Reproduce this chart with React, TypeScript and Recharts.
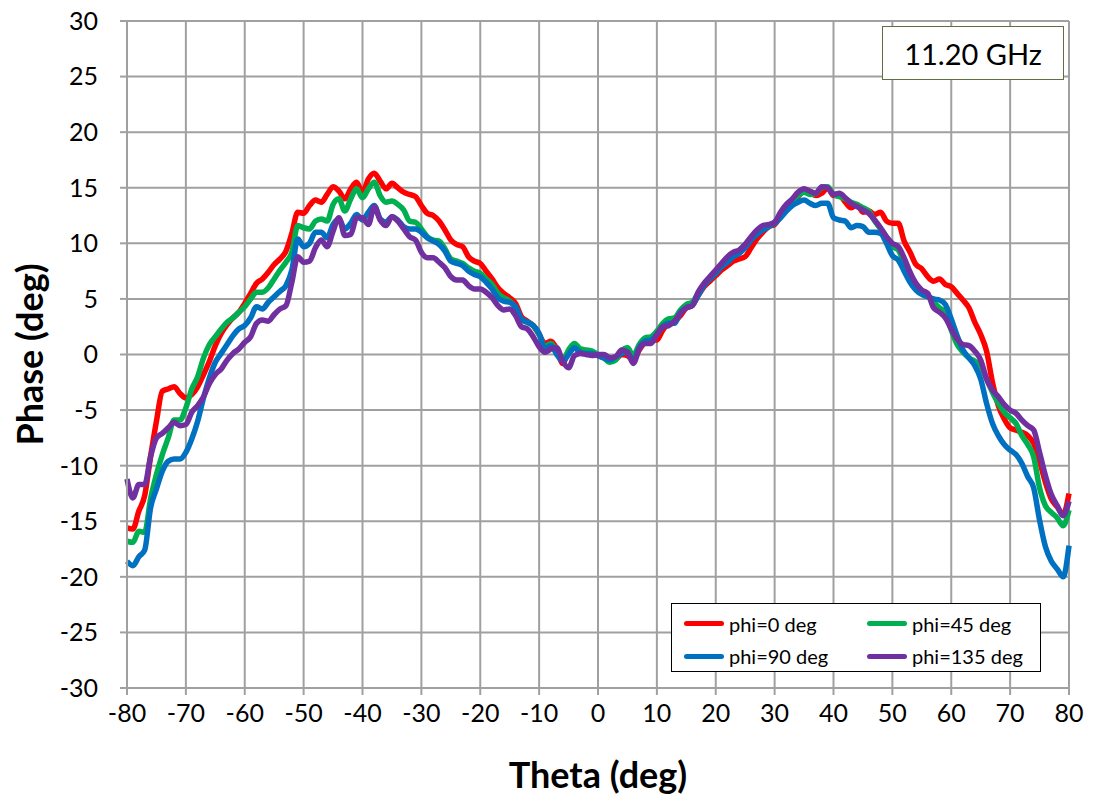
import { LineChart, Line, XAxis, YAxis, CartesianGrid } from "recharts";

// theta sampled every 1 deg from -80 to 80
const theta = Array.from({ length: 161 }, (_, i) => i - 80);

const phi0 = [
  -15.6, -15.7, -14.1, -12.7, -9.2, -6.0, -3.3, -3.1, -2.9, -3.5,
  -3.9, -3.6, -2.9, -1.8, -0.6, 0.8, 1.9, 2.7, 3.3, 3.8,
  4.6, 5.5, 6.4, 6.8, 7.4, 8.1, 8.6, 9.3, 10.9, 12.8,
  12.7, 13.4, 13.9, 13.7, 14.4, 15.1, 14.7, 14.0, 14.9, 15.5,
  14.6, 15.8, 16.3, 15.6, 14.9, 15.4, 15.0, 14.6, 14.4, 14.2,
  13.4, 12.7, 12.5, 12.0, 11.2, 10.3, 9.9, 9.7, 8.8, 8.4,
  8.2, 7.5, 6.8, 6.0, 5.5, 5.1, 4.6, 3.4, 3.0, 2.6,
  1.8, 1.0, 1.2, 0.5, -0.8, 0.3, 0.7, 0.2, 0.2, 0.1,
  -0.1, -0.3, -0.4, -0.4, 0.0, -0.1, -0.5, 0.4, 1.1, 1.3,
  1.3, 2.2, 2.8, 3.0, 3.5, 4.2, 4.4, 5.3, 6.1, 6.6,
  7.1, 7.6, 8.0, 8.4, 8.6, 8.8, 9.6, 10.4, 11.0, 11.5,
  11.7, 12.4, 13.1, 13.6, 14.2, 14.7, 14.6, 14.3, 14.5, 15.0,
  14.3, 14.3, 13.7, 13.2, 13.5, 12.8, 12.9, 12.6, 12.8, 12.0,
  11.8, 11.8, 10.2, 9.2, 8.1, 7.7, 7.0, 6.6, 6.8, 6.3,
  6.1, 5.5, 4.9, 4.2, 2.9, 1.8, 0.3, -2.5, -4.6, -5.8,
  -6.6, -6.8, -7.0, -7.3, -8.0, -9.6, -11.5, -13.0, -13.7, -14.4,
  -12.5,
];

const phi45 = [
  -16.8, -16.9, -15.9, -16.0, -13.0, -10.8, -9.0, -7.5, -5.9, -5.9,
  -4.8, -3.1, -2.0, -0.3, 0.9, 1.6, 2.3, 2.9, 3.3, 3.8,
  4.3, 5.0, 5.6, 5.6, 6.0, 6.8, 7.6, 8.3, 9.2, 11.6,
  11.4, 11.3, 12.0, 12.2, 12.0, 13.5, 14.0, 12.9, 14.0, 14.9,
  14.1, 14.9, 15.5, 14.3, 13.7, 13.8, 13.5, 13.0, 12.0, 11.9,
  11.3, 10.6, 10.3, 10.2, 9.5, 8.6, 8.4, 8.2, 7.8, 7.5,
  7.3, 6.8, 6.3, 5.5, 5.1, 4.8, 4.2, 3.1, 2.9, 2.6,
  1.8, 0.7, 1.0, 0.3, -0.5, 0.4, 1.0, 0.5, 0.4, 0.3,
  0.0, -0.3, -0.7, -0.5, 0.3, 0.6, -0.1, 0.9, 1.5, 1.6,
  2.1, 2.8, 3.2, 3.3, 4.0, 4.5, 4.7, 5.5, 6.3, 6.8,
  7.4, 8.0, 8.5, 9.0, 9.4, 9.9, 10.5, 11.0, 11.4, 11.6,
  11.9, 12.6, 13.3, 13.8, 14.3, 14.6, 14.4, 14.5, 15.0, 15.1,
  14.4, 14.2, 14.0, 13.7, 13.5, 13.2, 12.9, 12.0, 11.3, 10.5,
  9.7, 9.4, 8.2, 7.1, 6.2, 5.7, 5.3, 4.7, 4.2, 3.8,
  2.2, 0.9, 0.2, -0.3, -0.6, -1.0, -2.2, -3.4, -4.4, -5.2,
  -5.7, -6.2, -7.3, -8.1, -9.2, -12.0, -13.6, -14.2, -14.7, -15.4,
  -14.0,
];

const phi90 = [
  -18.6, -19.0, -18.2, -17.6, -13.8, -12.1, -10.5, -9.6, -9.4, -9.4,
  -8.8, -7.6, -6.0, -3.9, -2.1, -0.7, 0.1, 0.9, 1.7, 2.3,
  2.6, 3.3, 4.3, 4.1, 4.7, 5.2, 5.7, 6.2, 7.6, 10.4,
  9.7, 10.0, 11.0, 11.0, 10.5, 11.7, 12.2, 11.3, 11.8, 12.6,
  12.1, 12.8, 13.4, 12.2, 11.9, 12.4, 12.1, 11.5, 11.3, 11.3,
  11.0, 10.5, 10.2, 9.9, 9.3, 8.4, 8.2, 8.0, 7.5, 7.2,
  7.0, 6.5, 5.9, 5.1, 4.8, 4.7, 4.3, 3.2, 2.9, 2.6,
  1.9, 0.5, 0.8, 0.0, -0.6, 0.0, 0.6, 0.2, 0.1, 0.1,
  -0.1, -0.3, -0.5, -0.2, 0.1, 0.2, -0.6, 0.6, 1.2, 1.3,
  1.8, 2.5, 2.8, 2.8, 3.8, 4.2, 4.4, 5.3, 6.2, 6.8,
  7.3, 7.9, 8.3, 8.8, 9.1, 9.6, 10.3, 10.8, 11.2, 11.5,
  11.8, 12.3, 12.9, 13.4, 13.7, 13.9, 13.6, 13.4, 13.6, 13.6,
  12.3, 12.1, 12.0, 11.4, 11.6, 11.5, 11.0, 11.0, 10.9, 10.0,
  8.9, 8.5, 7.5, 6.5, 5.8, 5.4, 5.2, 5.0, 4.9, 4.5,
  3.2, 1.7, 0.4, -0.3, -1.0, -2.2, -4.4, -6.2, -7.3, -8.1,
  -8.6, -9.0, -9.8, -11.0, -12.0, -14.9, -17.3, -18.6, -19.3, -20.0,
  -17.2,
];

const phi135 = [
  -11.2, -12.9, -11.7, -11.7, -9.2, -7.5, -7.1, -6.6, -6.1, -6.4,
  -6.3, -5.2, -4.6, -3.8, -2.6, -1.8, -1.3, -0.5, 0.1, 0.5,
  1.1, 1.6, 2.8, 3.1, 3.0, 3.6, 4.1, 4.4, 6.5, 8.8,
  8.3, 8.4, 9.6, 10.3, 9.7, 11.1, 12.3, 10.7, 10.8, 12.3,
  12.3, 11.7, 13.3, 12.1, 11.6, 12.4, 12.0, 11.3, 10.6, 10.3,
  9.2, 8.7, 8.7, 8.3, 7.8, 7.0, 6.7, 6.7, 6.2, 5.9,
  5.9, 5.6, 5.1, 4.4, 4.0, 4.1, 3.5, 2.5, 2.3, 1.6,
  0.7, 0.2, 0.5, 0.6, -0.6, -1.2, -0.1, 0.1, 0.0, -0.1,
  0.0, 0.0, -0.3, -0.2, 0.4, 0.2, -0.8, 0.5, 1.0, 1.0,
  1.8, 2.5, 2.6, 3.0, 3.7, 4.2, 4.4, 5.6, 6.4, 7.0,
  7.6, 8.2, 8.8, 9.2, 9.4, 9.9, 10.6, 11.2, 11.6, 11.7,
  11.9, 12.8, 13.5, 14.0, 14.6, 14.9, 14.7, 14.5, 15.1, 15.0,
  14.4, 14.5, 14.1, 13.6, 13.3, 13.0, 12.7, 12.1, 11.4, 10.6,
  10.0, 9.7, 8.7, 7.4, 6.4, 5.8, 5.5, 4.2, 3.8, 3.3,
  2.3, 1.4, 0.9, 0.8, 0.3, -0.5, -2.2, -3.2, -3.8, -4.5,
  -5.0, -5.3, -5.9, -6.4, -6.8, -8.8, -10.9, -12.6, -13.6, -14.5,
  -13.2,
];

const xTicks = [-80, -70, -60, -50, -40, -30, -20, -10, 0, 10, 20, 30, 40, 50, 60, 70, 80];
const yTicks = [-30, -25, -20, -15, -10, -5, 0, 5, 10, 15, 20, 25, 30];

const series = [
  { key: "phi0", name: "phi=0 deg", color: "#ff0000" },
  { key: "phi45", name: "phi=45 deg", color: "#00b050" },
  { key: "phi90", name: "phi=90 deg", color: "#0070c0" },
  { key: "phi135", name: "phi=135 deg", color: "#7030a0" },
];

const data = theta.map((t, i) => ({
  theta: t,
  phi0: phi0[i],
  phi45: phi45[i],
  phi90: phi90[i],
  phi135: phi135[i],
}));

const FONT = "Lato, 'Liberation Sans', sans-serif";

const LegendBox = () => (
  <div
    style={{
      position: "absolute",
      left: 671,
      top: 603,
      border: "1.5px solid #000",
      background: "#fff",
      width: 370,
      height: 69,
      boxSizing: "border-box",
      display: "grid",
      gridTemplateColumns: "183px 180px",
      gridTemplateRows: "35px 30px",
      paddingLeft: 12,
      paddingTop: 2,
      fontFamily: FONT,
      fontSize: 20,
      color: "#000",
    }}
  >
    {series.map((s) => (
      <div key={s.key} style={{ display: "flex", alignItems: "center", whiteSpace: "nowrap" }}>
        <span
          style={{ width: 40, height: 5, borderRadius: 3, background: s.color, marginRight: 5, flexShrink: 0 }}
        />
        {s.name}
      </div>
    ))}
  </div>
);

export default function App() {
  return (
    <div style={{ position: "fixed", left: 0, top: 0, width: 1093, height: 801, background: "#fff" }}>
      <LineChart
        width={1093}
        height={801}
        data={data}
        margin={{ top: 21, right: 24, bottom: 73, left: 67 }}
      >
        <CartesianGrid stroke="#a0a0a0" strokeWidth={2} horizontalValues={yTicks} verticalValues={xTicks} />
        <XAxis
          dataKey="theta"
          type="number"
          domain={[-80, 80]}
          ticks={xTicks}
          height={40}
          interval={0}
          tickSize={7}
          tickMargin={9}
          axisLine={{ stroke: "#a0a0a0", strokeWidth: 2 }}
          tickLine={{ stroke: "#a0a0a0", strokeWidth: 2 }}
          tick={{ fontSize: 25, fill: "#000", fontFamily: FONT }}
          label={{
            value: "Theta (deg)",
            position: "insideBottom",
            offset: -60,
            style: { fontSize: 36, fontWeight: 700, fill: "#000", fontFamily: FONT },
          }}
        />
        <YAxis
          type="number"
          domain={[-30, 30]}
          ticks={yTicks}
          width={60}
          interval={0}
          tickSize={7}
          tickMargin={22}
          axisLine={{ stroke: "#a0a0a0", strokeWidth: 2 }}
          tickLine={{ stroke: "#a0a0a0", strokeWidth: 2 }}
          tick={{ fontSize: 25, fill: "#000", fontFamily: FONT }}
          label={{
            value: "Phase (deg)",
            angle: -90,
            position: "insideLeft",
            offset: -37,
            style: { fontSize: 36, fontWeight: 700, fill: "#000", fontFamily: FONT, textAnchor: "middle" },
          }}
        />
        {series.map((s) => (
          <Line
            key={s.key}
            dataKey={s.key}
            name={s.name}
            type="monotone"
            stroke={s.color}
            strokeWidth={5.5}
            dot={false}
            isAnimationActive={false}
          />
        ))}
      </LineChart>
      <LegendBox />
      <div
        style={{
          position: "absolute",
          left: 882,
          top: 26,
          width: 182,
          height: 54,
          boxSizing: "border-box",
          border: "1.5px solid #5f7040",
          background: "#fff",
          display: "flex",
          alignItems: "center",
          justifyContent: "center",
          fontFamily: FONT,
          fontSize: 29,
          color: "#000",
        }}
      >
        11.20 GHz
      </div>
    </div>
  );
}
